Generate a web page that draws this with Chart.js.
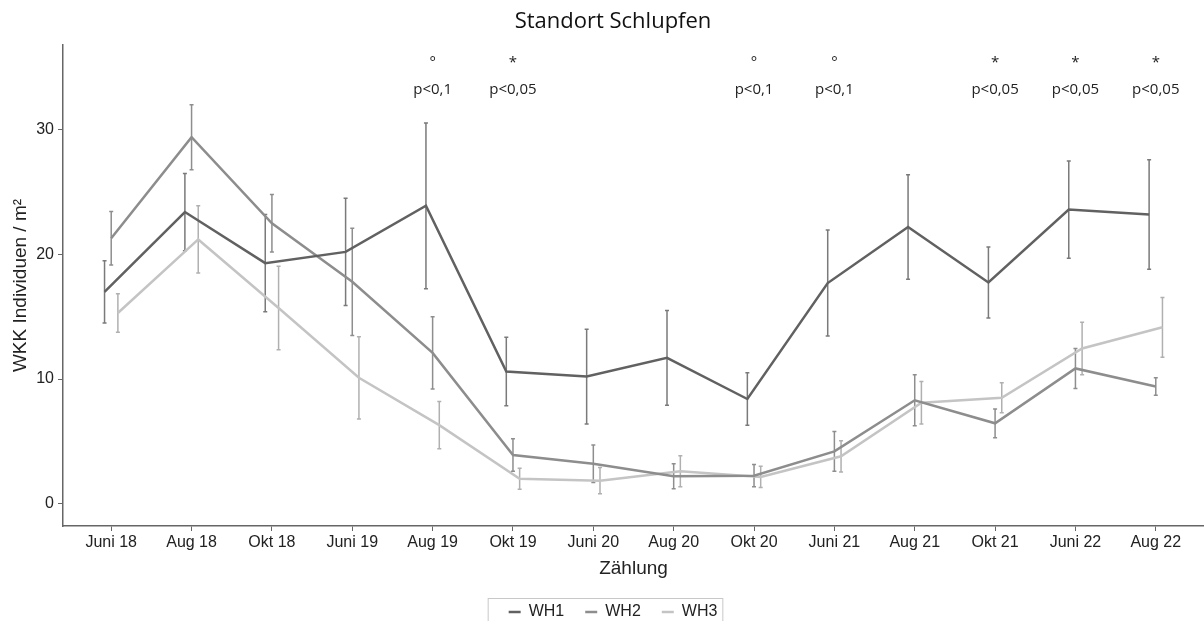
<!DOCTYPE html>
<html>
<head>
<meta charset="utf-8">
<script src="https://cdn.jsdelivr.net/npm/chart.js@4.4.1/dist/chart.umd.min.js"></script>
<style>
  html, body { margin: 0; padding: 0; background: #fff; }
  #wrap { width: 1204px; height: 621px; }
</style>
</head>
<body>
<div id="wrap"><canvas id="wkkChart" width="1204" height="621"></canvas></div>
<script>
// Zählungen
const categories = ['Juni 18', 'Aug 18', 'Okt 18', 'Juni 19', 'Aug 19', 'Okt 19', 'Juni 20',
    'Aug 20', 'Okt 20', 'Juni 21', 'Aug 21', 'Okt 21', 'Juni 22', 'Aug 22'];

// Mittelwerte und Fehler (Individuen / m²)
const wh1Mean = [17.0, 23.4, 19.3, 20.2, 23.9, 10.6, 10.2, 11.7, 8.4, 17.7, 22.2, 17.75, 23.6, 23.2];
const wh1Err = [2.5, 3.1, 3.9, 4.3, 6.65, 2.75, 3.8, 3.8, 2.1, 4.25, 4.2, 2.85, 3.9, 4.4];
const wh2Mean = [21.3, 29.4, 22.5, 17.8, 12.1, 3.9, 3.2, 2.2, 2.25, 4.2, 8.3, 6.45, 10.85, 9.4];
const wh2Err = [2.15, 2.6, 2.3, 4.3, 2.9, 1.3, 1.5, 1.0, 0.9, 1.6, 2.05, 1.15, 1.6, 0.7];
const wh3Mean = [15.3, 21.2, 15.7, 10.1, 6.3, 2.0, 1.85, 2.6, 2.15, 3.8, 8.1, 8.5, 12.45, 14.15];
const wh3Err = [1.55, 2.7, 3.35, 3.3, 1.9, 0.85, 1.05, 1.25, 0.85, 1.25, 1.7, 1.2, 2.1, 2.4];

const yTicks = [0, 10, 20, 30];

// Signifikanzen
const sigIndex = [4, 5, 8, 9, 11, 12, 13];
const sigSymbol = ['°', '*', '°', '°', '*', '*', '*'];
const sigLabel = ['p<0,1', 'p<0,05', 'p<0,1', 'p<0,1', 'p<0,05', 'p<0,05', 'p<0,05'];

const tickFont = 'Liberation Sans, Arial, sans-serif';
const noteFont = 'Open Sans, Noto Sans, sans-serif';

function toPoints(values, shift) {
    return values.map((v, i) => ({ x: i + shift, y: v }));
}

// Fehlerbalken
const errorBarPlugin = {
    id: 'errorBars',
    beforeDatasetsDraw(chart) {
        const ctx = chart.ctx;
        const yScale = chart.scales.y;
        chart.data.datasets.forEach((ds, di) => {
            const meta = chart.getDatasetMeta(di);
            ctx.save();
            ctx.strokeStyle = ds.errorColor;
            ctx.lineWidth = 1.5;
            meta.data.forEach((pt, i) => {
                const yTop = yScale.getPixelForValue(ds.data[i].y + ds.errors[i]);
                const yBot = yScale.getPixelForValue(ds.data[i].y - ds.errors[i]);
                ctx.beginPath();
                ctx.moveTo(pt.x, yTop);
                ctx.lineTo(pt.x, yBot);
                ctx.moveTo(pt.x - 2, yTop);
                ctx.lineTo(pt.x + 2, yTop);
                ctx.moveTo(pt.x - 2, yBot);
                ctx.lineTo(pt.x + 2, yBot);
                ctx.stroke();
            });
            ctx.restore();
        });
    }
};

// p-Werte oben und Rahmen um die Legende
const notesPlugin = {
    id: 'notes',
    afterDraw(chart) {
        const ctx = chart.ctx;
        const xScale = chart.scales.x;
        const yScale = chart.scales.y;
        ctx.save();
        ctx.fillStyle = '#222';
        ctx.textAlign = 'center';
        ctx.textBaseline = 'middle';
        ctx.font = '15px ' + noteFont;
        sigIndex.forEach((idx, k) => {
            const x = xScale.getPixelForValue(idx);
            ctx.fillText(sigSymbol[k], x, yScale.getPixelForValue(35.4));
            ctx.fillText(sigLabel[k], x, yScale.getPixelForValue(33.2));
        });

        const boxes = chart.legend.legendHitBoxes;
        if (boxes && boxes.length) {
            const left = Math.min(...boxes.map(b => b.left)) - 21;
            const right = Math.max(...boxes.map(b => b.left + b.width)) + 5;
            const mid = boxes[0].top + boxes[0].height / 2;
            ctx.strokeStyle = '#c8c8c8';
            ctx.lineWidth = 1;
            ctx.strokeRect(left + 0.5, mid - 13.5, right - left, 40);
        }
        ctx.restore();
    }
};

new Chart(document.getElementById('wkkChart').getContext('2d'), {
    type: 'line',
    data: {
        datasets: [
            {
                label: 'WH1',
                data: toPoints(wh1Mean, -0.083),
                errors: wh1Err,
                errorColor: '#7a7a7a',
                borderColor: '#616161',
                backgroundColor: '#616161',
                borderWidth: 2.5
            },
            {
                label: 'WH2',
                data: toPoints(wh2Mean, 0),
                errors: wh2Err,
                errorColor: '#8e8e8e',
                borderColor: '#8d8d8d',
                backgroundColor: '#8d8d8d',
                borderWidth: 2.5
            },
            {
                label: 'WH3',
                data: toPoints(wh3Mean, 0.083),
                errors: wh3Err,
                errorColor: '#b0b0b0',
                borderColor: '#c4c4c4',
                backgroundColor: '#c4c4c4',
                borderWidth: 2.5
            }
        ]
    },
    options: {
        responsive: false,
        devicePixelRatio: 1,
        animation: false,
        elements: { point: { radius: 0 }, line: { tension: 0 } },
        // links etwas Platz, damit die Legende mittig unter dem Diagramm sitzt
        layout: { padding: { left: 22, right: 0, top: 0, bottom: -9 } },
        plugins: {
            title: {
                display: true,
                text: 'Standort Schlupfen',
                color: '#111',
                font: { family: noteFont, size: 22, weight: 'normal' },
                padding: { top: 9, bottom: 9.6 }
            },
            legend: {
                position: 'bottom',
                labels: {
                    usePointStyle: true,
                    pointStyle: 'line',
                    pointStyleWidth: 12,
                    boxHeight: 12,
                    padding: 21,
                    color: '#222',
                    font: { family: tickFont, size: 16 }
                }
            },
            tooltip: { enabled: false }
        },
        scales: {
            x: {
                type: 'linear',
                min: -0.6,
                max: 13.6,
                afterBuildTicks: scale => { scale.ticks = categories.map((c, i) => ({ value: i })); },
                afterFit: scale => { scale.height = 57; },
                ticks: {
                    callback: value => categories[value],
                    color: '#222',
                    padding: 2,
                    maxRotation: 0,
                    font: { family: tickFont, size: 16 }
                },
                grid: { drawOnChartArea: false, drawTicks: true, tickLength: 5, color: '#666' },
                border: { color: '#666', width: 1.5 },
                title: {
                    display: true,
                    text: 'Zählung',
                    color: '#222',
                    font: { family: tickFont, size: 19 },
                    padding: { top: 0, bottom: 3 }
                }
            },
            y: {
                min: -1.79,
                max: 36.8,
                afterBuildTicks: scale => { scale.ticks = yTicks.map(v => ({ value: v })); },
                afterFit: scale => { scale.width = 41; },
                ticks: {
                    color: '#222',
                    padding: 4,
                    font: { family: tickFont, size: 16 }
                },
                grid: { drawOnChartArea: false, drawTicks: true, tickLength: 5, color: '#666' },
                border: { color: '#666', width: 1.5 },
                title: {
                    display: true,
                    text: 'WKK Individuen / m²',
                    color: '#222',
                    font: { family: tickFont, size: 19 },
                    padding: { top: -13, bottom: 0 }
                }
            }
        }
    },
    plugins: [errorBarPlugin, notesPlugin]
});
</script>
</body>
</html>
